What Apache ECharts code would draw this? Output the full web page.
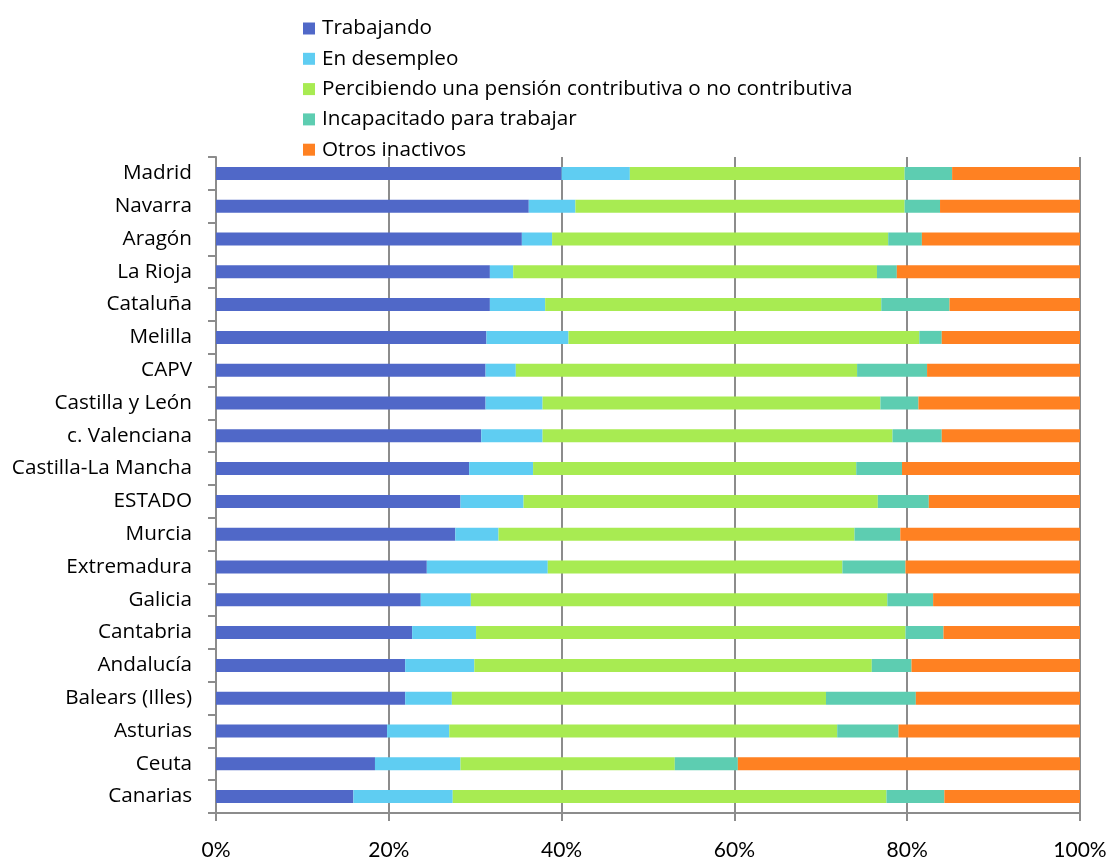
<!DOCTYPE html>
<html lang="es">
<head>
    <meta charset="UTF-8">
    <script src="https://cdn.jsdelivr.net/npm/echarts@6/dist/echarts.min.js"></script>
    <style>
        * { margin: 0; padding: 0; }
        html, body { background: #fff; }
        #chart { width: 1112px; height: 861px; }
    </style>
</head>
<body>
<div id="chart"></div>
<script>
    var regiones = ['Madrid', 'Navarra', 'Aragón', 'La Rioja', 'Cataluña', 'Melilla', 'CAPV',
        'Castilla y León', 'c. Valenciana', 'Castilla-La Mancha', 'ESTADO', 'Murcia', 'Extremadura',
        'Galicia', 'Cantabria', 'Andalucía', 'Balears (Illes)', 'Asturias', 'Ceuta', 'Canarias'];

    var trabajando   = [40.0, 36.2, 35.4, 31.7, 31.7, 31.3, 31.2, 31.2, 30.7, 29.3, 28.3, 27.7, 24.4, 23.7, 22.7, 21.9, 21.9, 19.8, 18.4, 15.9];
    var desempleo    = [7.9, 5.4, 3.5, 2.7, 6.4, 9.5, 3.5, 6.6, 7.1, 7.4, 7.3, 5.0, 14.0, 5.8, 7.4, 8.0, 5.4, 7.2, 9.9, 11.5];
    var pension      = [31.8, 38.1, 38.9, 42.1, 38.9, 40.6, 39.5, 39.1, 40.5, 37.4, 41.0, 41.2, 34.1, 48.2, 49.7, 46.0, 43.3, 44.9, 24.8, 50.2];
    var incapacitado = [5.5, 4.1, 3.9, 2.3, 7.9, 2.6, 8.1, 4.4, 5.7, 5.3, 5.9, 5.3, 7.3, 5.3, 4.4, 4.6, 10.4, 7.1, 7.3, 6.7];
    var otros        = [14.8, 16.2, 18.3, 21.2, 15.1, 16.0, 17.7, 18.7, 16.0, 20.6, 17.5, 20.8, 20.2, 17.0, 15.8, 19.5, 19.0, 21.0, 39.6, 15.7];

    var nombres = ['Trabajando', 'En desempleo', 'Percibiendo una pensión contributiva o no contributiva',
        'Incapacitado para trabajar', 'Otros inactivos'];
    var valores = [trabajando, desempleo, pension, incapacitado, otros];
    var colores = ['#5068C8', '#5FCDF2', '#A8EB52', '#5DCDB1', '#FF8122'];

    var myChart = echarts.init(document.getElementById('chart'));

    var series = [];
    for (var i = 0; i < nombres.length; i++) {
        series.push({
            name: nombres[i],
            type: 'bar',
            stack: 'total',
            barWidth: 13,
            itemStyle: { color: colores[i] },
            data: valores[i]
        });
    }

    var option = {
        animation: false,
        backgroundColor: '#fff',
        textStyle: { fontFamily: 'Open Sans' },
        legend: {
            orient: 'vertical',
            left: 303,
            top: 18,
            padding: 0,
            itemWidth: 12,
            itemHeight: 12,
            itemGap: 9.3,
            icon: 'rect',
            textStyle: { fontSize: 20.7, color: '#000', lineHeight: 20, fontFamily: 'Open Sans', padding: [0, 0, 0, 2] },
            data: nombres
        },
        grid: {
            left: 216,
            right: 32,
            top: 157,
            bottom: 44,
            containLabel: false
        },
        xAxis: {
            type: 'value',
            min: 0,
            max: 100,
            interval: 20,
            axisLine: { show: true, lineStyle: { color: '#8c8c8c', width: 2 } },
            axisTick: { show: true, length: 8, lineStyle: { color: '#8c8c8c', width: 2 } },
            splitLine: { show: true, lineStyle: { color: '#8c8c8c', width: 2 } },
            axisLabel: {
                formatter: '{value}%',
                fontSize: 21,
                color: '#000',
                margin: 27,
                fontFamily: 'Lato'
            }
        },
        yAxis: {
            type: 'category',
            inverse: true,
            data: regiones,
            axisLine: { show: true, lineStyle: { color: '#8c8c8c', width: 2 } },
            axisTick: { show: true, length: 8, lineStyle: { color: '#8c8c8c', width: 2 } },
            axisLabel: { fontSize: 20.7, color: '#000', margin: 24, fontFamily: 'Open Sans' }
        },
        series: series
    };

    myChart.setOption(option);
</script>
</body>
</html>
